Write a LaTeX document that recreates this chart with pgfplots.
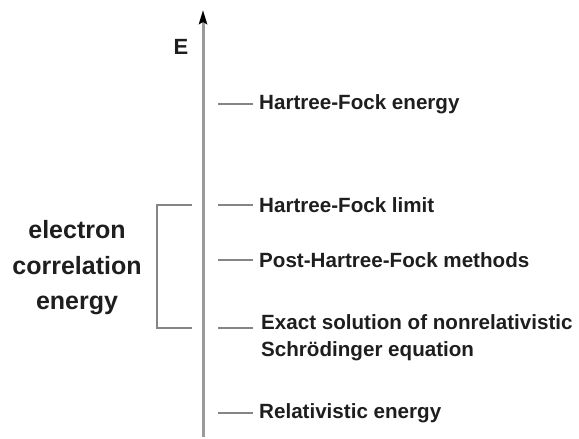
\documentclass[border=0pt]{standalone}
\usepackage{pgfplots}
\pgfplotsset{compat=1.18}
\usetikzlibrary{arrows.meta}
\usepackage{fontspec}
\setmainfont{Liberation Sans}
\definecolor{lvl}{HTML}{858585}
\definecolor{ax}{HTML}{9A9A9A}
\definecolor{txt}{HTML}{1E1E1E}
\begin{document}
\begin{tikzpicture}
\begin{axis}[
  scale only axis, width=579pt, height=437pt,
  xmin=0, xmax=579, ymin=0, ymax=437,
  hide axis, clip=false,
]
\draw[draw=none] (rel axis cs:0,0) rectangle (rel axis cs:1,1);
% energy axis
\addplot[draw=ax, line width=3pt, -{Stealth[length=14pt,width=8pt,inset=2pt,color=black]}] coordinates {(203,0) (203,427)};
% levels
\addplot[draw=lvl, line width=2pt] coordinates {(218,333) (253,333)};
\addplot[draw=lvl, line width=2pt] coordinates {(218,232) (253,232)};
\addplot[draw=lvl, line width=2.2pt] coordinates {(218,177) (253,177)};
\addplot[draw=lvl, line width=2.4pt] coordinates {(218,109) (253,109)};
\addplot[draw=lvl, line width=2pt] coordinates {(218,24) (253,24)};
% bracket
\addplot[draw=lvl, line width=2pt] coordinates {(192,232) (157,232) (157,109) (192,109)};
% labels
\node[anchor=center, text=txt, font=\fontsize{22}{24}\selectfont\bfseries] at (axis cs:181,390) {E};
\begin{scope}[every node/.style={anchor=west, text=txt, inner sep=0pt, font=\fontsize{20.6}{24}\selectfont\bfseries}]
\node at (axis cs:259,333) {Hartree-Fock energy};
\node at (axis cs:259,232) {Hartree-Fock limit};
\node at (axis cs:259,177) {Post-Hartree-Fock methods};
\node at (axis cs:261,115) {Exact solution of nonrelativistic};
\node at (axis cs:261,86) {Schrödinger equation};
\node at (axis cs:259,24) {Relativistic energy};
\end{scope}
\node[anchor=center, align=center, text=txt, font=\fontsize{25}{35.5}\selectfont\bfseries] at (axis cs:77,169) {electron\\correlation\\energy};
\end{axis}
\end{tikzpicture}
\end{document}
